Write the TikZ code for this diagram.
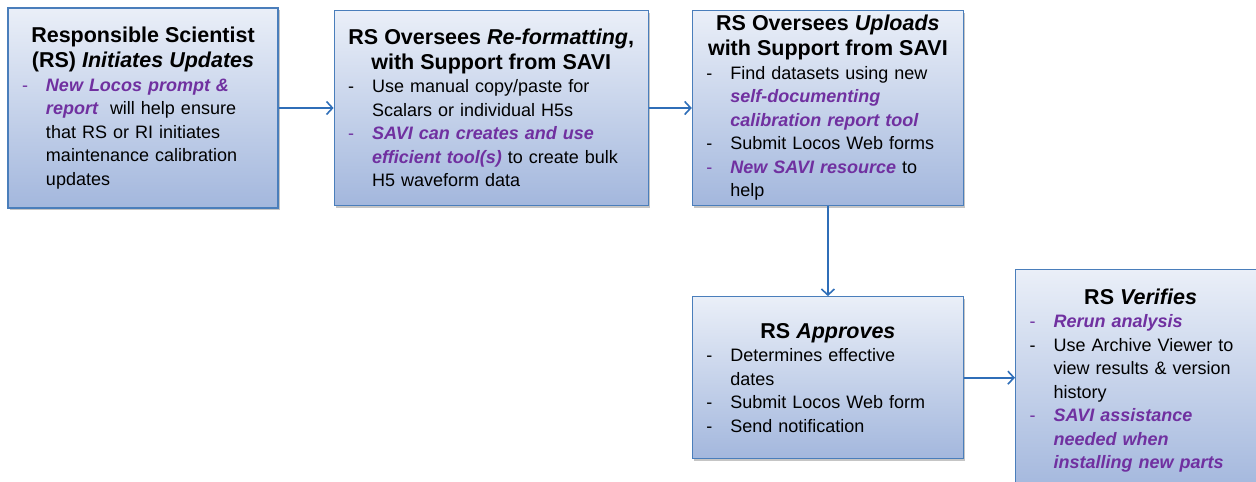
\documentclass[tikz,border=0pt]{standalone}
\usepackage{fontspec}
\setmainfont{Liberation Sans}
\usetikzlibrary{arrows.meta, positioning, shadows}
\definecolor{boxblue}{HTML}{4A7EBB}
\definecolor{arrowblue}{HTML}{2F6EB8}
\definecolor{savipurple}{HTML}{7030A0}
\definecolor{filltop}{HTML}{EAEFF8}
\definecolor{fillbottom}{HTML}{A3B7DD}
\newcommand{\hl}[1]{\textcolor{savipurple}{\bfseries\itshape #1}}
\newcommand{\ttl}[1]{{\fontsize{21.5}{25}\selectfont\bfseries #1\par}}
\newcommand{\bitem}[2][black]{\par\raggedright\hangindent=24pt\hangafter=1\noindent\makebox[24pt][l]{\textcolor{#1}{-}}#2\par}

\begin{document}
\begin{tikzpicture}[
    > = {Straight Barb[length=6pt, width=13pt]}, % open arrow head
    semithick % line style
]

\tikzstyle{every stepbox}=[
    draw = boxblue,
    line width = 1.2pt,
    top color = filltop,
    bottom color = fillbottom,
    drop shadow = {shadow xshift=2pt, shadow yshift=-2pt, fill=black!45, opacity=0.5},
    inner xsep = 14pt,
    inner ysep = 0pt,
    align = center,
    font = \fontsize{18}{23.5}\selectfont
]
\tikzstyle{link}=[draw = arrowblue, line width = 1.6pt]

\useasboundingbox (0,0) rectangle (1256pt,-482pt);

\node[every stepbox, text width=242pt, minimum height=200pt] (initiate) at (143pt,-108pt)
    {\ttl{Responsible Scientist\\(RS) \textit{Initiates Updates}}
     \bitem[savipurple]{\hl{New Locos prompt \&}\newline\hl{report}\ \ will help ensure\newline that RS or RI initiates\newline maintenance calibration\newline updates}};
\node[every stepbox, text width=286pt, minimum height=195pt] (reformat) [right=55pt of initiate]
    {\ttl{RS Oversees \textit{Re-formatting},\\with Support from SAVI}
     \bitem{Use manual copy/paste for\newline Scalars or individual H5s}
     \bitem[savipurple]{\hl{SAVI can creates and use}\newline\hl{efficient tool(s)} to create bulk\newline H5 waveform data}};
\node[every stepbox, text width=243pt, minimum height=195pt] (upload) [right=43pt of reformat]
    {\ttl{RS Oversees \textit{Uploads}\\with Support from SAVI}
     \bitem{Find datasets using new\newline\hl{self-documenting}\newline\hl{calibration report tool}}
     \bitem{Submit Locos Web forms}
     \bitem[savipurple]{\hl{New SAVI resource} to\newline help}};
\node[every stepbox, text width=243pt, minimum height=162pt] (approve) [below=90pt of upload]
    {\ttl{RS \textit{Approves}}
     \bitem{Determines effective\newline dates}
     \bitem{Submit Locos Web form}
     \bitem{Send notification}};
\node[every stepbox, text width=222pt, minimum height=222pt] (verify) [right=51pt of approve, yshift=-3pt]
    {\ttl{RS \textit{Verifies}}
     \bitem[savipurple]{\hl{Rerun analysis}}
     \bitem{Use Archive Viewer to\newline view results \& version\newline history}
     \bitem[savipurple]{\hl{SAVI assistance}\newline\hl{needed when}\newline\hl{installing new parts}}};

\path[->, link] (initiate) edge (reformat);
\path[->, link] (reformat) edge (upload);
\path[->, link] (upload) edge (approve);
\draw[->, link] (approve.east) -- (approve.east -| verify.west);

\end{tikzpicture}
\end{document}
